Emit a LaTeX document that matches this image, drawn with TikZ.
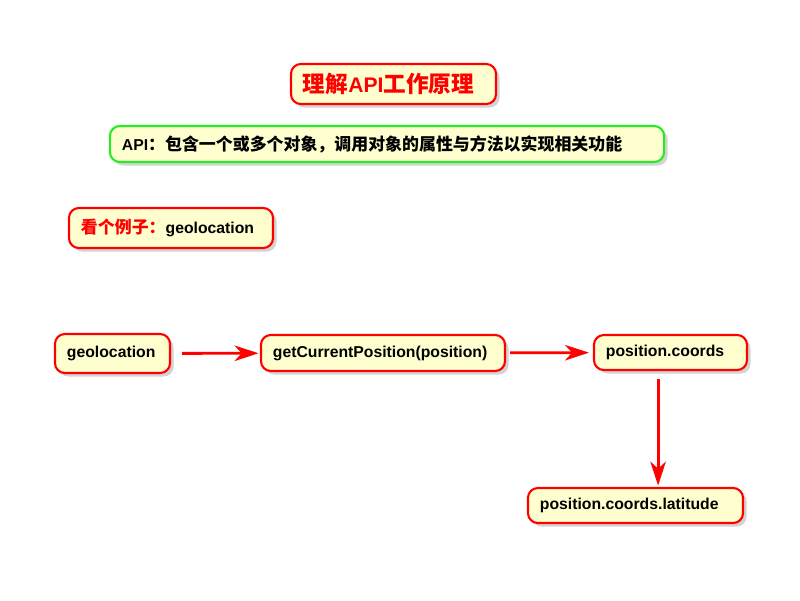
\documentclass[tikz,border=0pt]{standalone}
\usepackage{fontspec}
\setmainfont{Liberation Sans}
\newfontfamily\cjk{Noto Sans CJK SC}[Scale=1.075]
\usetikzlibrary{shapes,arrows.meta,shadows}
\definecolor{notefill}{HTML}{FEFECE}
\definecolor{notered}{HTML}{FF0000}
\definecolor{notegreen}{HTML}{22EE22}

\begin{document}
\begin{tikzpicture}[x=0.025cm,y=0.025cm]
        \tikzstyle{every node}+=[font=\fontsize{11.2}{14}\selectfont\bfseries]
        \tikzstyle{box}=[draw=notered, fill=notefill, line width=1.5pt, rounded corners=7pt, align=left, inner xsep=0.3cm, inner ysep=0pt, execute at begin node={\hyphenpenalty=10000}, drop shadow={shadow xshift=2.5pt, shadow yshift=-2.5pt, opacity=0.35}]
        \tikzstyle{arr}=[draw=notered, line width=2pt, -{Stealth[length=17pt,width=11pt,inset=5pt]}]
        \useasboundingbox (0,0) rectangle (800,-600);
        \node[box, text width=4.525cm, minimum height=1cm] (title) at (393.5,-84) {\fontsize{15}{17}\selectfont\color{notered}\cjk 理解\rmfamily API\cjk 工作原理};
        \node[box, draw=notegreen, text width=13.25cm, minimum height=0.9cm] (api) at (387,-144) {API\cjk ：包含一个或多个对象，调用对象的属性与方法以实现相关功能};
        \node[box, text width=4.5cm, minimum height=1cm] (example) at (171,-228) {{\color{notered}\cjk 看个例子：}geolocation};
        \node[box, text width=2.275cm, minimum height=0.975cm] (geo) at (112.5,-353.5) {geolocation};
        \node[box, text width=5.5cm, minimum height=0.9cm] (getpos) at (383,-353) {getCurrentPosition(position)};
        \node[box, text width=3.225cm, minimum height=0.875cm] (coords) at (670.5,-352.5) {position.coords};
        \node[box, text width=4.775cm, minimum height=0.875cm] (lat) at (635.5,-505.5) {position.coords.latitude};
        \draw[arr, shorten <=0.275cm, shorten >=1pt] (geo) -- (getpos);
        \draw[arr, shorten <=0.1cm, shorten >=0.1cm] (getpos) -- (coords);
        \draw[arr, shorten <=0.2cm, shorten >=1pt] ([xshift=-0.31cm]coords.south) -- ([xshift=-0.31cm]coords.south |- lat.north);
\end{tikzpicture}
\end{document}
